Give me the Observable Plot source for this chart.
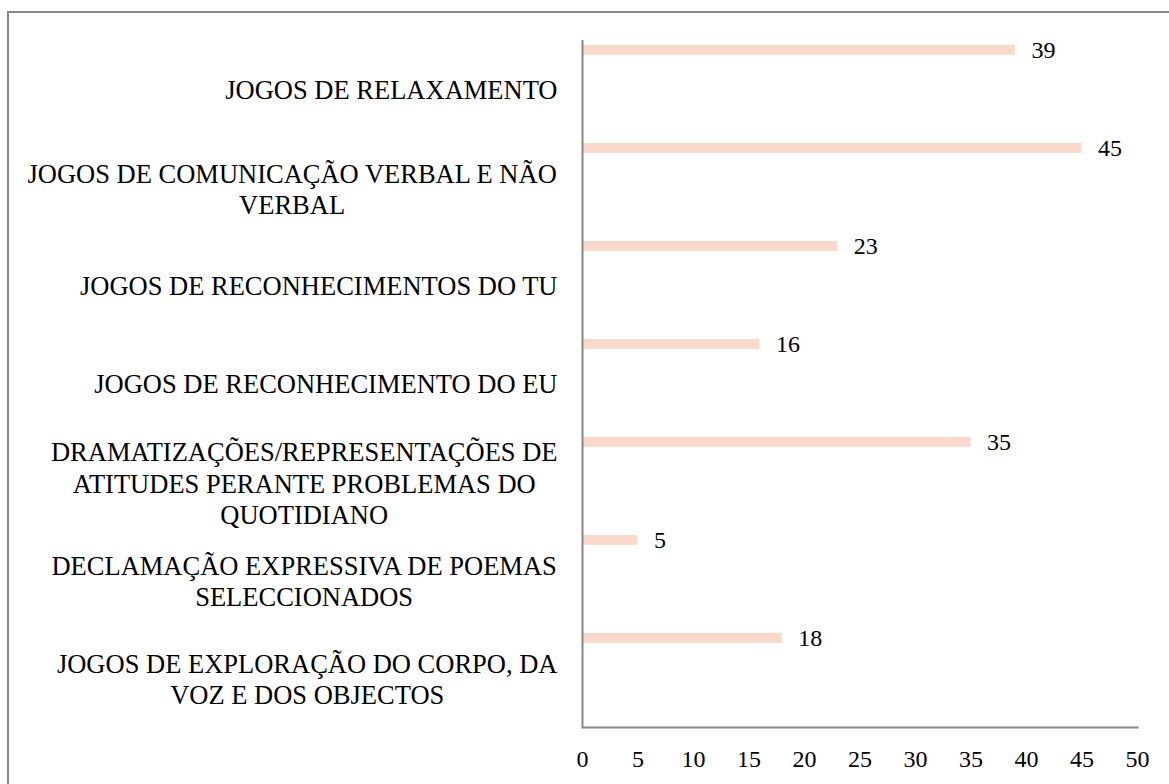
<!DOCTYPE html>
<html>
<head>
<meta charset="utf-8">
<script src="https://cdn.jsdelivr.net/npm/d3@7"></script>
<script src="https://cdn.jsdelivr.net/npm/@observablehq/plot@0.6"></script>
<style>
  html, body { margin: 0; padding: 0; background: #fff; }
  #wrap { position: relative; width: 1169px; height: 784px; overflow: hidden; }
  #border { position: absolute; left: 7px; top: 11px; width: 1200px; height: 820px; border: 2px solid #878787; box-sizing: border-box; }
  #chart { position: absolute; left: 0; top: 0; }
</style>
</head>
<body>
<div id="wrap"><div id="border"></div><div id="chart"></div></div>
<script>
const categories = [
  "JOGOS DE RELAXAMENTO",
  "JOGOS DE COMUNICAÇÃO VERBAL E NÃO VERBAL",
  "JOGOS DE RECONHECIMENTOS DO TU",
  "JOGOS DE RECONHECIMENTO DO EU",
  "DRAMATIZAÇÕES/REPRESENTAÇÕES DE ATITUDES PERANTE PROBLEMAS DO QUOTIDIANO",
  "DECLAMAÇÃO EXPRESSIVA DE POEMAS SELECCIONADOS",
  "JOGOS DE EXPLORAÇÃO DO CORPO, DA VOZ E DOS OBJECTOS"
];
const values = [39, 45, 23, 16, 35, 5, 18];
const labelLines = [
  "JOGOS DE RELAXAMENTO",
  "JOGOS DE COMUNICAÇÃO VERBAL E NÃO\nVERBAL",
  "JOGOS DE RECONHECIMENTOS DO TU",
  "JOGOS DE RECONHECIMENTO DO EU",
  "DRAMATIZAÇÕES/REPRESENTAÇÕES DE\nATITUDES PERANTE PROBLEMAS DO\nQUOTIDIANO",
  "DECLAMAÇÃO EXPRESSIVA DE POEMAS\nSELECCIONADOS",
  "JOGOS DE EXPLORAÇÃO DO CORPO, DA\nVOZ E DOS OBJECTOS"
];
const xTicks = [0, 5, 10, 15, 20, 25, 30, 35, 40, 45, 50];

const data = categories.map((c, i) => ({cat: c, value: values[i]}));
const labelOf = new Map(categories.map((c, i) => [c, labelLines[i]]));
const fmt = d => labelOf.get(d);

const W = 1169, H = 784, mT = 40, mB = 57, mL = 582, mR = 32;
const bw = (H - mT - mB) / categories.length;
const FONT = "'Liberation Serif', 'Times New Roman', serif";
const LABEL_SIZE = 26.5;
const GAP = 25;

// measure widest line of each label so that each block is right-aligned and lines are centred within it
const ctx = document.createElement("canvas").getContext("2d");
ctx.font = `${LABEL_SIZE}px ${FONT}`;
const widest = s => Math.max(...s.split("\n").map(l => ctx.measureText(l).width));

const labelAxes = categories.map(c => {
  const txt = labelOf.get(c);
  if (!txt.includes("\n")) {
    return Plot.axisY({ticks: [c], tickSize: 0, tickPadding: GAP, tickFormat: fmt, textAnchor: "end", fontSize: LABEL_SIZE, label: null});
  }
  return Plot.axisY({ticks: [c], tickSize: 0, tickPadding: GAP + widest(txt) / 2, tickFormat: fmt, textAnchor: "middle", lineHeight: 1.19, fontSize: LABEL_SIZE, label: null});
});

const chart = Plot.plot({
  width: W, height: H,
  marginTop: mT, marginBottom: mB, marginLeft: mL, marginRight: mR,
  style: {fontFamily: FONT, fontSize: "24px", background: "transparent", color: "#000", overflow: "visible"},
  x: {domain: [0, 50]},
  y: {domain: categories, padding: 0, label: null},
  marks: [
    Plot.barX(data, {x: "value", y: "cat", fill: "#FAD9CB", insetTop: 4, insetBottom: bw - 14}),
    Plot.text(data, {x: "value", y: "cat", text: d => String(d.value), textAnchor: "start", dx: 16, dy: -40, fontSize: 24, fill: "#000"}),
    Plot.ruleX([0], {stroke: "#878787", strokeWidth: 2}),
    Plot.frame({anchor: "bottom", stroke: "#878787", strokeWidth: 2}),
    Plot.axisX({ticks: xTicks, tickSize: 0, tickPadding: 22, fontSize: 24, label: null}),
    ...labelAxes
  ]
});
document.getElementById("chart").appendChild(chart);
</script>
</body>
</html>
